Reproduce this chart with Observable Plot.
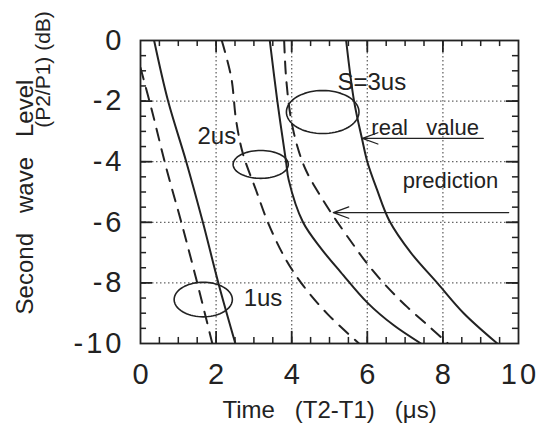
<!DOCTYPE html>
<html><head><meta charset="utf-8">
<script src="https://cdn.jsdelivr.net/npm/d3@7"></script>
<script src="https://cdn.jsdelivr.net/npm/@observablehq/plot@0.6"></script>
<style>
html,body{margin:0;padding:0;background:#fff;}
#chart svg{display:block;}
</style></head><body><div id="chart"></div>
<script>
// ---- data: Second wave level (dB) vs time T2-T1 (us), for S = 1, 2, 3 us ----
const real1T = [0.36, 0.73, 1.21, 1.65, 2.07, 2.51];
const real1L = [0, -2, -4, -6, -8.05, -10];
const pred1T = [0, 0.3, 0.68, 1.08, 1.48, 1.9];
const pred1L = [-0.9, -2.3, -4.2, -6.0, -7.9, -10];

const real2T = [3.42, 3.62, 3.85, 3.92, 4.3, 4.8, 5.3, 6.0, 6.7, 7.42];
const real2L = [0, -2, -4, -4.6, -6.0, -6.9, -7.65, -8.65, -9.4, -10];
const pred2T = [2.15, 2.4, 2.53, 2.71, 3.06, 3.37, 3.81, 4.25, 4.95, 5.78];
const pred2L = [0, -1.21, -2.64, -3.74, -4.95, -6.0, -7.15, -8.0, -9.03, -10];

const real3T = [5.44, 5.65, 5.87, 6.0, 6.25, 6.58, 7.15, 7.85, 8.55, 9.44];
const real3L = [0, -2, -3.3, -4, -4.9, -5.94, -7.0, -8.0, -9.0, -10];
const pred3T = [3.8, 3.85, 3.97, 4.15, 4.38, 4.78, 5.12, 5.55, 6.0, 6.5, 7.06, 7.6, 8.12];
const pred3L = [0, -1.2, -2.5, -3.5, -4.29, -5.17, -5.83, -6.6, -7.37, -8.1, -8.8, -9.4, -9.98];

// tick labels
const xTicks = [0, 2, 4, 6, 8, 10];
const yTicks = [0, -2, -4, -6, -8, -10];

// loop annotations (S values)
const loopText = ["1us", "2us", "S=3us"];
const loopCx = [1.66, 3.18, 4.82];
const loopCy = [-8.55, -4.09, -2.36];
const loopRx = [0.77, 0.73, 0.96];
const loopRy = [0.57, 0.46, 0.71];
const loopTextT = [3.24, 2.02, 6.12];
const loopTextL = [-8.52, -3.17, -1.39];

// arrow annotations
const arrowText = ["real   value", "prediction"];
const arrowTextT = [7.53, 8.2];
const arrowTextL = [-2.9, -4.62];
const arrowFromT = [9.07, 9.74];
const arrowToT = [5.87, 5.1];
const arrowL = [-3.23, -5.68];

// ---- build tables ----
const mk = (T, L) => T.map((t, i) => ({t, level: L[i]}));
const realCurves = [mk(real1T, real1L), mk(real2T, real2L), mk(real3T, real3L)];
const predCurves = [mk(pred1T, pred1L), mk(pred2T, pred2L), mk(pred3T, pred3L)];

const loops = [];
loopText.forEach((s, k) => {
  for (let i = 0; i <= 72; i++) {
    const a = (i / 72) * 2 * Math.PI;
    loops.push({s, t: loopCx[k] + loopRx[k] * Math.cos(a), level: loopCy[k] + loopRy[k] * Math.sin(a)});
  }
});
const loopLabels = loopText.map((s, k) => ({s, t: loopTextT[k], level: loopTextL[k]}));
const arrows = arrowText.map((s, k) => ({s, t1: arrowFromT[k], t2: arrowToT[k], level: arrowL[k], tt: arrowTextT[k], tl: arrowTextL[k]}));

const minorX = d3.range(0.5, 10, 0.5);
const majorX = [2, 4, 6, 8];
const minorY = d3.range(-9.5, 0, 0.5);
const majorY = [-2, -4, -6, -8];

const FONT = '"Liberation Sans",Arial,Helvetica,sans-serif';
const INK = "#222";

const lineMarks = [];
realCurves.forEach(c => lineMarks.push(Plot.line(c, {x: "t", y: "level", curve: "catmull-rom", stroke: INK, strokeWidth: 2, clip: true})));
predCurves.forEach(c => lineMarks.push(Plot.line(c, {x: "t", y: "level", curve: "catmull-rom", stroke: INK, strokeWidth: 2, strokeDasharray: "12,9", clip: true})));

const chart = Plot.plot({
  width: 544, height: 428,
  marginLeft: 140, marginRight: 26, marginTop: 40, marginBottom: 85,
  style: {fontFamily: FONT, background: "#fff", color: INK},
  x: {domain: [0, 10]},
  y: {domain: [-10, 0]},
  marks: [
    Plot.ruleX(majorX, {stroke: "#666", strokeWidth: 1.3, strokeDasharray: "1.5,2.5"}),
    Plot.ruleY(majorY, {stroke: "#666", strokeWidth: 1.3, strokeDasharray: "1.5,2.5"}),
    // inner ticks
    Plot.ruleX(minorX, {x: d => d, y1: -10, y2: -9.8, stroke: INK, strokeWidth: 1.5}),
    Plot.ruleX(minorX, {x: d => d, y1: 0, y2: -0.2, stroke: INK, strokeWidth: 1.5}),
    Plot.ruleX(majorX, {x: d => d, y1: -10, y2: -9.6, stroke: INK, strokeWidth: 1.8}),
    Plot.ruleX(majorX, {x: d => d, y1: 0, y2: -0.4, stroke: INK, strokeWidth: 1.8}),
    Plot.ruleY(minorY, {y: d => d, x1: 0, x2: 0.16, stroke: INK, strokeWidth: 1.5}),
    Plot.ruleY(minorY, {y: d => d, x1: 10, x2: 9.84, stroke: INK, strokeWidth: 1.5}),
    Plot.ruleY(majorY, {y: d => d, x1: 0, x2: 0.32, stroke: INK, strokeWidth: 1.8}),
    Plot.ruleY(majorY, {y: d => d, x1: 10, x2: 9.68, stroke: INK, strokeWidth: 1.8}),
    ...lineMarks,
    Plot.line(loops, {x: "t", y: "level", z: "s", stroke: INK, strokeWidth: 1.6}),
    Plot.text(loopLabels, {x: "t", y: "level", text: "s", fontSize: 24, fill: INK, ariaLabel: "loop labels"}),
    Plot.arrow(arrows, {x1: "t1", x2: "t2", y1: "level", y2: "level", stroke: INK, strokeWidth: 1.3, headLength: 19, headAngle: 40}),
    Plot.text(arrows, {x: "tt", y: "tl", text: "s", fontSize: 22, fill: INK, ariaLabel: "arrow labels"}),
    Plot.frame({stroke: INK, strokeWidth: 1.8}),
    Plot.axisX(xTicks, {tickSize: 0, tickPadding: 20, fontSize: 29, label: null, fill: INK}),
    Plot.axisY(yTicks, {tickSize: 0, tickPadding: 19, fontSize: 29, label: null, fill: INK,
      tickFormat: d => d === 0 ? "0" : "-" + Math.abs(d)}),
    Plot.text(["Second   wave   Level"], {frameAnchor: "left", textAnchor: "middle", dx: -115, dy: 5, rotate: -90, fontSize: 24, fill: INK, ariaLabel: "y title"}),
    Plot.text(["(P2/P1) (dB)"], {frameAnchor: "top-left", textAnchor: "middle", lineAnchor: "middle", dx: -97, dy: 29, rotate: -90, fontSize: 21, fill: INK, ariaLabel: "y unit"}),
    Plot.text(["Time   (T2-T1)   (μs)"], {frameAnchor: "bottom", textAnchor: "middle", lineAnchor: "middle", dx: 0, dy: 67, fontSize: 24, fill: INK, ariaLabel: "x title"})
  ]
});
document.getElementById("chart").appendChild(chart);

// widen texts (extra px between characters) to mimic the spaced typesetting of the original
const spread = {
  "x-axis tick label": 3,
  "y-axis tick label": 3,
  "loop labels": 1.5,
  "arrow labels": 2.5,
  "y title": 2,
  "y unit": 0.5,
  "x title": 1
};
d3.select(chart).selectAll("g[aria-label]").each(function() {
  const extra = spread[this.getAttribute("aria-label")];
  if (extra === undefined) return;
  d3.select(this).selectAll("text").each(function() {
    const n = this.textContent.length;
    const w = this.getComputedTextLength();
    if (n > 1 && w > 0) {
      this.setAttribute("textLength", (w + extra * (n - 1)).toFixed(1));
      this.setAttribute("lengthAdjust", "spacing");
    }
  });
});
</script>
</body></html>
